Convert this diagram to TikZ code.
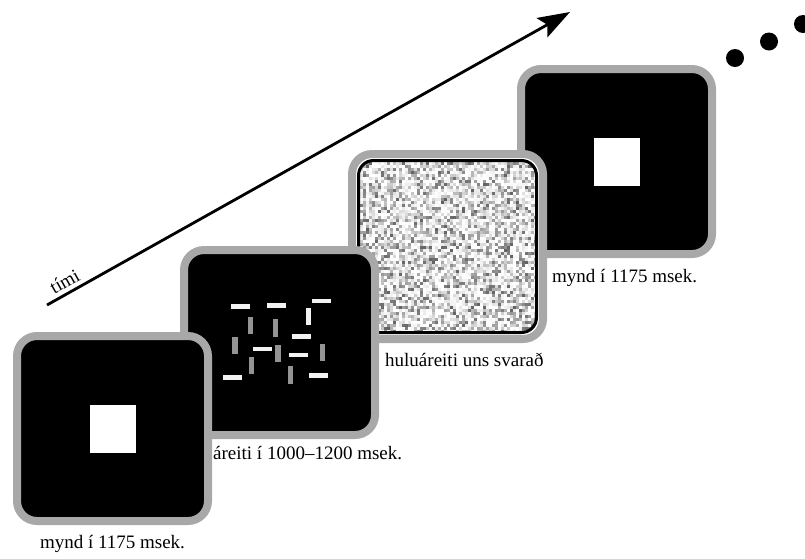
\documentclass[tikz,border=0pt]{standalone}
\usepackage{fontspec}
\setmainfont{Liberation Serif}
\usetikzlibrary{arrows.meta,calc}

\definecolor{rimgray}{gray}{0.66}
\definecolor{barlight}{gray}{0.95}
\definecolor{bardark}{gray}{0.58}

\tikzset{
  screenbox/.style={rectangle, rounded corners=20pt, draw=rimgray, line width=8pt,
    fill=black, minimum width=191pt, minimum height=185pt, inner sep=0pt},
  maskbox/.style={screenbox, fill=white},
  caption/.style={font=\fontsize{19}{22}\selectfont, inner sep=0pt},
  timearrow/.style={line width=2.8pt, -{Stealth[length=32pt,width=22pt,inset=6pt]}},
  hbar/.style={fill=barlight},
  vbar/.style={fill=bardark},
  dot/.style={fill=black}
}

\begin{document}
\begin{tikzpicture}[x=1pt,y=-1pt]
\useasboundingbox (0,0) rectangle (805,558);

% time axis with its label
\coordinate (t0) at (47,305);
\coordinate (t1) at (570,12);
\draw[timearrow] (t0) -- node[caption, pos=0.045, sloped, above, inner sep=4pt] (timelabel) {tími} (t1);

% continuation dots
\fill[dot] (735,58) circle (9pt);
\fill[dot] (769,41.5) circle (9pt);
\fill[dot] (803,24) circle (9pt);

% frame 4 (back): fixation square
\node[screenbox] (f4) at (616.5,161.5) {};
\fill[white] ($(f4.center)+(-23,-24)$) rectangle ($(f4.center)+(23,24)$);

% frame 3: noise mask
\node[maskbox] (f3) at (447.5,246.5) {};
\begin{scope}
  \clip[rounded corners=15pt] ($(f3.north west)+(10,10)$) rectangle ($(f3.south east)+(-10,-10)$);
  \pgfmathsetseed{4711}
  \foreach \i in {0,...,60}{
    \foreach \j in {0,...,59}{
      \pgfmathsetmacro\shade{62*rnd^2.6}
      \fill[black!\shade] (357+3*\i,159+3*\j) rectangle ++(3.05,3.05);
    }
  }
\end{scope}
\draw[line width=3pt, rounded corners=15pt] ($(f3.north west)+(10.5,10.5)$) rectangle ($(f3.south east)+(-10.5,-10.5)$);

% frame 2: line-segment stimulus
\node[screenbox] (f2) at (279.5,342.5) {};
\foreach \x/\y in {240/306.5, 276.5/305.5, 321.5/301, 301.5/336.5,
                   262.5/349, 298.5/355, 232.5/377.5, 318.5/375.5}
  \fill[hbar] (\x-9.5,\y-2.3) rectangle (\x+9.5,\y+2.3);
\fill[hbar] (308.5-2.7,316.5-8.8) rectangle (308.5+2.7,316.5+8.8);
\foreach \x/\y in {250.5/325.5, 275.5/328, 235/345.5, 278/353.5,
                   322.5/352.5, 251.5/365.5, 290.5/375}
  \fill[vbar] (\x-2.7,\y-8.8) rectangle (\x+2.7,\y+8.8);

% frame 1 (front): fixation square
\node[screenbox] (f1) at (112.5,428.5) {};
\fill[white] ($(f1.center)+(-23,-24)$) rectangle ($(f1.center)+(23,24)$);

% captions
\node[caption, anchor=base] (c1) at ($(f1.south)+(0,23)$) {mynd í 1175 msek.};
\node[caption, anchor=base west] (c2) at ($(f2.south -| f1.east)+(1,20)$) {áreiti í 1000–1200 msek.};
\node[caption, anchor=base west] (c3) at ($(f3.south -| f2.east)+(6,23)$) {huluáreiti uns svarað};
\node[caption, anchor=base west] (c4) at ($(f4.south -| f3.east)+(5,24)$) {mynd í 1175 msek.};
\end{tikzpicture}
\end{document}
